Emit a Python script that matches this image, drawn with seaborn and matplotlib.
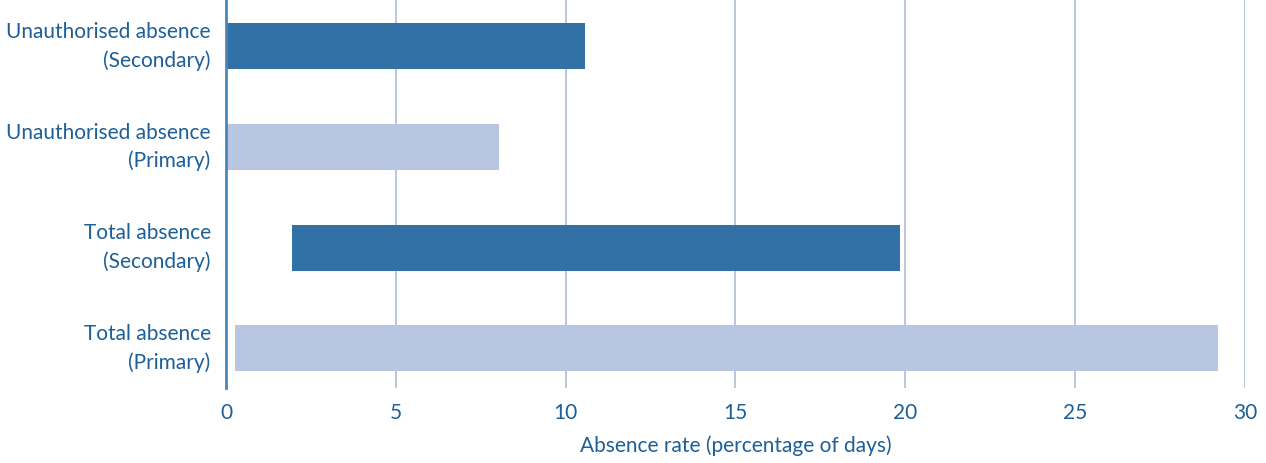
import matplotlib
matplotlib.use("Agg")
import matplotlib.pyplot as plt
import seaborn as sns
import pandas as pd

categories = [
    "Unauthorised absence\n(Secondary)",
    "Unauthorised absence\n(Primary)",
    "Total absence\n(Secondary)",
    "Total absence\n(Primary)",
]
range_start = [0.0, 0.0, 1.95, 0.27]
range_end = [10.57, 8.05, 19.85, 29.22]
x_ticks = [0, 5, 10, 15, 20, 25, 30]

dark_blue = "#3271a6"
light_blue = "#b9c6e1"
bar_colors = [dark_blue, light_blue, dark_blue, light_blue]
text_color = "#1d5f98"

sns.set_theme(style="white")
plt.rcParams["font.family"] = ["Lato", "DejaVu Sans"]

df = pd.DataFrame({
    "category": categories,
    "start": range_start,
    "end": range_end,
})
df["span"] = df["end"] - df["start"]

fig = plt.figure(figsize=(12.66, 4.63), dpi=100)
ax = fig.add_axes([0.1785, 0.163, 0.9834 - 0.1785, 0.837])

sns.barplot(
    data=df, x="span", y="category", hue="category",
    palette=bar_colors, order=categories, hue_order=categories,
    width=0.455, legend=False, ax=ax, orient="h", saturation=1,
)

# shift each bar so it spans its start..end range
for patch in ax.patches:
    idx = int(round(patch.get_y() + patch.get_height() / 2))
    patch.set_x(range_start[idx])
    patch.set_width(range_end[idx] - range_start[idx])
    patch.set_edgecolor("none")

ax.set_xlim(0, 30)
ax.set_ylim(3.39, -0.46)
ax.set_xticks(x_ticks)
ax.set_xticklabels([str(t) for t in x_ticks])

ax.grid(axis="x", color="#b6c2dc", linewidth=1.3)
ax.grid(axis="y", visible=False)
ax.set_axisbelow(True)

for side in ["top", "right", "bottom"]:
    ax.spines[side].set_visible(False)
ax.spines["left"].set_color("#4a86b8")
ax.spines["left"].set_linewidth(2)
ax.spines["left"].set_zorder(5)

ax.tick_params(axis="x", length=0, pad=11, labelsize=15, labelcolor=text_color)
ax.tick_params(axis="y", length=0, pad=11, labelsize=15, labelcolor=text_color)
for lbl in ax.get_yticklabels():
    lbl.set_horizontalalignment("right")
    lbl.set_verticalalignment("center")
    lbl.set_multialignment("right")
    lbl.set_linespacing(1.5)

ax.set_ylabel("")
ax.set_xlabel("Absence rate (percentage of days)", fontsize=15, color=text_color, labelpad=9)

fig.savefig("out.png", dpi=100)
